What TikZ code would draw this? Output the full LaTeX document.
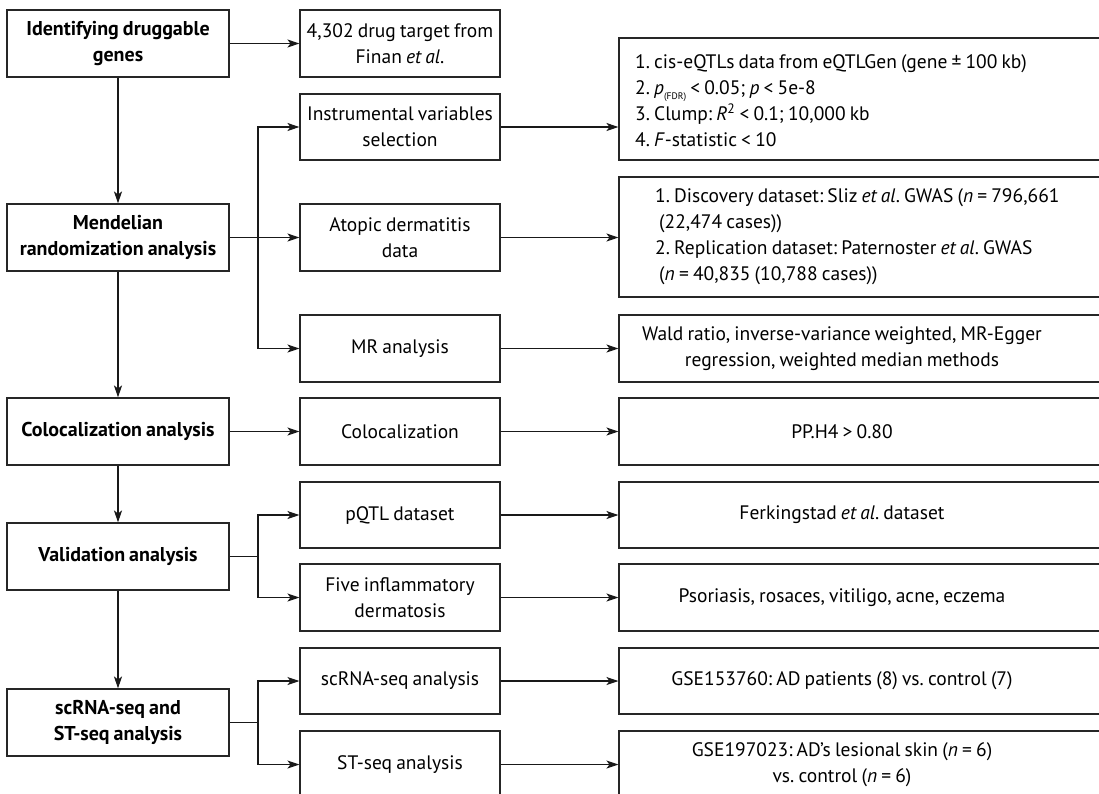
\documentclass[tikz,border=0pt]{standalone}
\usepackage{fontspec}
\setmainfont{PT Sans}[WordSpace=0.8]
\usetikzlibrary{arrows.meta}
\frenchspacing
\begin{document}
\begin{tikzpicture}[x=1pt,y=-1pt,
  txt/.style={font=\fontsize{19.5}{26}\selectfont},
  box/.style={draw=black!85,line width=1.1pt,rectangle,inner sep=0pt,align=center,txt},
  lbox/.style={box,minimum width=222pt,minimum height=67pt,font=\fontsize{20}{26}\selectfont\bfseries},
  mbox/.style={box,minimum width=200pt,minimum height=67pt},
  rbox/.style={box,minimum width=491pt,minimum height=67pt},
  arr/.style={draw=black!90,line width=1.1pt,-{Stealth[length=12pt,width=8pt,inset=3pt]}},
  ln/.style={draw=black!90,line width=1.1pt}]
\useasboundingbox (0,0) rectangle (1099,793);
% left column
\node[lbox] (B1) at (118,43.5) {Identifying druggable\\genes};
\node[lbox] (B2) at (118,237.5) {Mendelian\\randomization analysis};
\node[lbox] (B3) at (118,431.5) {Colocalization analysis};
\node[lbox] (B4) at (118,556.5) {Validation analysis};
\node[lbox] (B5) at (118,722.5) {scRNA-seq and\\ST-seq analysis};
% middle column
\node[mbox] (M1) at (400,43.5) {4,302 drug target from\\Finan \textit{et al}.};
\node[mbox,minimum height=66pt] (M2) at (400,127) {Instrumental variables\\selection};
\node[mbox] (M3) at (400,237.5) {Atopic dermatitis\\data};
\node[mbox] (M4) at (400,348.5) {MR analysis};
\node[mbox] (M5) at (400,431.5) {Colocalization};
\node[mbox,minimum height=66pt] (M6) at (400,515) {pQTL dataset};
\node[mbox] (M7) at (400,597.5) {Five inflammatory\\dermatosis};
\node[mbox,minimum height=66pt] (M8) at (400,681) {scRNA-seq analysis};
\node[mbox] (M9) at (400,764.5) {ST-seq analysis};
% right column boxes
\node[rbox,minimum height=122pt] (R1) at (864.5,99) {};
\node[rbox,minimum height=120pt] (R2) at (864.5,237) {};
\node[rbox] (R3) at (864.5,348.5) {};
\node[rbox] (R4) at (864.5,431.5) {};
\node[rbox,minimum height=66pt] (R5) at (864.5,515) {};
\node[rbox] (R6) at (864.5,597.5) {};
\node[rbox,minimum height=66pt] (R7) at (864.5,681) {};
\node[rbox] (R8) at (864.5,764.5) {};
% right column texts
\node[txt,align=left,anchor=west,inner sep=0pt] (T1) at (635,101)
  {1. cis-eQTLs data from eQTLGen (gene ± 100 kb)\\
   2. \textit{p}\raisebox{-0.5ex}{\fontsize{9.5}{9.5}\selectfont(FDR)} < 0.05; \textit{p} < 5e-8\\
   3. Clump: \textit{R}\textsuperscript{2} < 0.1; 10,000 kb\\
   4. \textit{F}-statistic < 10};
\node[txt,align=left,anchor=west,inner sep=0pt] (T2) at (655,237)
  {1. Discovery dataset: Sliz \textit{et al}. GWAS (\textit{n} = 796,661\\
   \hspace*{4pt}(22,474 cases))\\
   2. Replication dataset: Paternoster \textit{et al}. GWAS\\
   \hspace*{4pt}(\textit{n} = 40,835 (10,788 cases))};
\node[txt,align=center] (T3) at (842,348.5) {Wald ratio, inverse-variance weighted, MR-Egger\\regression, weighted median methods};
\node[txt] (T4) at (842,431.5) {PP.H4 > 0.80};
\node[txt] (T5) at (842,515) {Ferkingstad \textit{et al}. dataset};
\node[txt] (T6) at (842,597.5) {Psoriasis, rosaces, vitiligo, acne, eczema};
\node[txt] (T7) at (842,681) {GSE153760: AD patients (8) vs. control (7)};
\node[txt,align=center] (T8) at (842,764.5) {GSE197023: AD’s lesional skin (\textit{n} = 6)\\vs. control (\textit{n} = 6)};
% junctions
\coordinate (J1) at (258,237.5);
\coordinate (J2) at (258,556.5);
\coordinate (J3) at (258,722.5);
% vertical flow
\draw[arr] (B1.south) -- (B2.north);
\draw[arr] (B2.south) -- (B3.north);
\draw[arr] (B3.south) -- (B4.north);
\draw[arr] (B4.south) -- (B5.north);
% left to middle
\draw[arr] (B1.east) -- (M1.west);
\draw[arr] (B2.east) -- (M3.west);
\draw[arr] (J1) |- (M2.west);
\draw[arr] (J1) |- (M4.west);
\draw[arr] (B3.east) -- (M5.west);
\draw[ln] (B4.east) -- (J2);
\draw[arr] (J2) |- (M6.west);
\draw[arr] (J2) |- (M7.west);
\draw[ln] (B5.east) -- (J3);
\draw[arr] (J3) |- (M8.west);
\draw[arr] (J3) |- (M9.west);
% middle to right
\draw[arr] (M2.east) -- (M2.east -| R1.west);
\draw[arr] (M3.east) -- (M3.east -| R2.west);
\draw[arr] (M4.east) -- (M4.east -| R3.west);
\draw[arr] (M5.east) -- (M5.east -| R4.west);
\draw[arr] (M6.east) -- (M6.east -| R5.west);
\draw[arr] (M7.east) -- (M7.east -| R6.west);
\draw[arr] (M8.east) -- (M8.east -| R7.west);
\draw[arr] (M9.east) -- (M9.east -| R8.west);
\end{tikzpicture}
\end{document}
